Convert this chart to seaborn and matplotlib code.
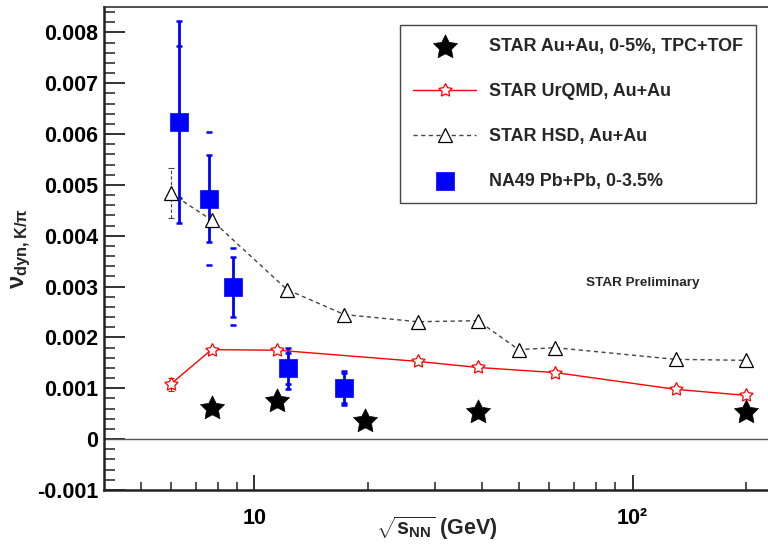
import numpy as np
import pandas as pd
import matplotlib
matplotlib.use("Agg")
import matplotlib.pyplot as plt
import seaborn as sns
from matplotlib.ticker import FixedLocator, FuncFormatter, MultipleLocator, NullFormatter

# ---------------- data ----------------
star_x = [7.7, 11.5, 19.6, 39, 200]
star_y = [0.00062, 0.00075, 0.00035, 0.00053, 0.00054]

urqmd_x = [6.0, 7.7, 11.5, 27, 39, 62.4, 130, 200]
urqmd_y = [0.00108, 0.00176, 0.00175, 0.00153, 0.00141, 0.00131, 0.00098, 0.00086]
urqmd_err = [0.00013, 0, 0, 0, 0, 0, 0, 0]

hsd_x = [6.0, 7.7, 12.2, 17.3, 27, 39, 50, 62.4, 130, 200]
hsd_y = [0.00484, 0.00431, 0.00294, 0.00245, 0.00231, 0.00233, 0.00176, 0.00180, 0.00157, 0.00155]
hsd_err = [0.00049, 0, 0, 0, 0, 0, 0, 0, 0, 0]

na49_x = [6.3, 7.6, 8.8, 12.3, 17.3]
na49_y = [0.00624, 0.00473, 0.00300, 0.00139, 0.00101]
na49_stat = [0.00198, 0.00085, 0.00059, 0.00040, 0.00030]
na49_sys = [0.00150, 0.00131, 0.00076, 0.00030, 0.00033]

labels = ["STAR Au+Au, 0-5%, TPC+TOF", "STAR UrQMD, Au+Au",
          "STAR HSD, Au+Au", "NA49 Pb+Pb, 0-3.5%"]

y_major = [-0.001, 0, 0.001, 0.002, 0.003, 0.004, 0.005, 0.006, 0.007, 0.008]
x_major = [10, 100]
x_major_labels = ["10", "10\u00b2"]

# ---------------- style ----------------
sns.set_style("ticks", {"xtick.direction": "in", "ytick.direction": "in"})
plt.rcParams["font.family"] = ["Liberation Sans", "DejaVu Sans"]
plt.rcParams["font.weight"] = "bold"
plt.rcParams["mathtext.fontset"] = "custom"
plt.rcParams["mathtext.rm"] = "Liberation Sans:bold"
plt.rcParams["mathtext.bf"] = "Liberation Sans:bold"
plt.rcParams["mathtext.it"] = "Liberation Sans:bold"
plt.rcParams["mathtext.sf"] = "Liberation Sans:bold"

fat_star = (5, 1, 0)

fig = plt.figure(figsize=(7.68, 5.46), dpi=100)
ax = fig.add_axes([104 / 768, 1 - 490 / 546, 679 / 768, 483 / 546])

df_star = pd.DataFrame({"x": star_x, "y": star_y})
df_urqmd = pd.DataFrame({"x": urqmd_x, "y": urqmd_y})
df_hsd = pd.DataFrame({"x": hsd_x, "y": hsd_y})
df_na49 = pd.DataFrame({"x": na49_x, "y": na49_y})

ax.axhline(0, color="#555555", lw=1.0, zorder=1)

# error bars
ax.errorbar(urqmd_x, urqmd_y, yerr=urqmd_err, fmt="none", ecolor="red",
            elinewidth=0.8, capsize=2, capthick=0.8, zorder=2)
eb = ax.errorbar(hsd_x, hsd_y, yerr=hsd_err, fmt="none", ecolor="#444444",
                 elinewidth=0.8, capsize=2, capthick=0.8, zorder=2)
for c in eb[2]:
    c.set_linestyle((0, (3, 2)))
ax.errorbar(na49_x, na49_y, yerr=na49_stat, fmt="none", ecolor="blue",
            elinewidth=2.0, capsize=2.5, capthick=1.8, zorder=3)
ax.errorbar(na49_x, na49_y, yerr=na49_sys, fmt="none", ecolor="blue",
            elinewidth=0, capsize=2.5, capthick=1.8, zorder=3)

sns.lineplot(data=df_urqmd, x="x", y="y", ax=ax, color="red", lw=1.0,
             marker=fat_star, markersize=10, markerfacecolor="white",
             markeredgecolor="red", markeredgewidth=0.9, sort=False,
             label=labels[1], zorder=4)
sns.lineplot(data=df_hsd, x="x", y="y", ax=ax, color="#444444", lw=1.0,
             linestyle=(0, (3, 2.5)), marker="^", markersize=10,
             markerfacecolor="white", markeredgecolor="black",
             markeredgewidth=0.9, sort=False, label=labels[2], zorder=4)
sns.scatterplot(data=df_na49, x="x", y="y", ax=ax, marker="s", s=160,
                color="blue", edgecolor="blue", linewidth=0.5,
                label=labels[3], zorder=5)
sns.scatterplot(data=df_star, x="x", y="y", ax=ax, marker=fat_star, s=330,
                color="black", edgecolor="black", linewidth=0.5,
                label=labels[0], zorder=6)

# ---------------- axes ----------------
ax.set_xscale("log")
ax.set_xlim(4, 250)
ax.set_ylim(-0.001, 0.0085)

ax.xaxis.set_major_locator(FixedLocator(x_major))
ax.set_xticks(x_major)
ax.set_xticklabels(x_major_labels)
ax.xaxis.set_minor_locator(FixedLocator([5, 6, 7, 8, 9, 20, 30, 40, 50, 60, 70, 80, 90, 200]))
ax.xaxis.set_minor_formatter(NullFormatter())

ax.yaxis.set_major_locator(FixedLocator(y_major))
ax.yaxis.set_major_formatter(FuncFormatter(lambda v, p: "0" if abs(v) < 1e-12 else f"{v:.3f}"))
ax.yaxis.set_minor_locator(MultipleLocator(0.0002))

ax.tick_params(axis="y", which="major", length=15, width=1.3, pad=4,
               labelsize=15.5, colors="#222222", labelcolor="black")
ax.tick_params(axis="y", which="minor", length=8, width=1.1, colors="#222222")
ax.tick_params(axis="x", which="major", length=11, width=1.3, pad=13,
               labelsize=15.5, colors="#222222", labelcolor="black")
ax.tick_params(axis="x", which="minor", length=6, width=1.1, colors="#222222")
for lbl in ax.get_xticklabels() + ax.get_yticklabels():
    lbl.set_fontweight("bold")

for side in ["left", "bottom"]:
    ax.spines[side].set_linewidth(1.8)
    ax.spines[side].set_color("#222222")
ax.spines["top"].set_linewidth(1.2)
ax.spines["top"].set_color("#333333")
ax.spines["right"].set_visible(False)

ax.set_ylabel(r"$\nu_{\mathbf{dyn,K/\pi}}$", fontsize=17)
ax.yaxis.set_label_coords(-0.105, 0.5)
ax.set_xlabel(r"$\sqrt{\mathbf{s_{NN}}}$ (GeV)", fontsize=15.5, fontweight="bold")
ax.xaxis.set_label_coords(0.49, -0.05)

handles, labs = ax.get_legend_handles_labels()
order = [labs.index(l) for l in labels]
leg = ax.legend([handles[i] for i in order], [labs[i] for i in order],
                loc="upper left", bbox_to_anchor=(400 / 768, 1 - 25 / 546),
                bbox_transform=fig.transFigure, frameon=True, fancybox=False,
                edgecolor="#444444", framealpha=1, borderpad=0.75,
                labelspacing=1.55, handlelength=3.5, handletextpad=0.7,
                prop={"size": 12.9, "weight": "bold"}, scatterpoints=1,
                borderaxespad=0)
leg.get_frame().set_linewidth(1.0)

fig.text(643 / 768, 1 - 283 / 546, "STAR Preliminary", fontsize=9.7,
         fontweight="bold", ha="center", va="center")

fig.savefig("out.png", dpi=100)
